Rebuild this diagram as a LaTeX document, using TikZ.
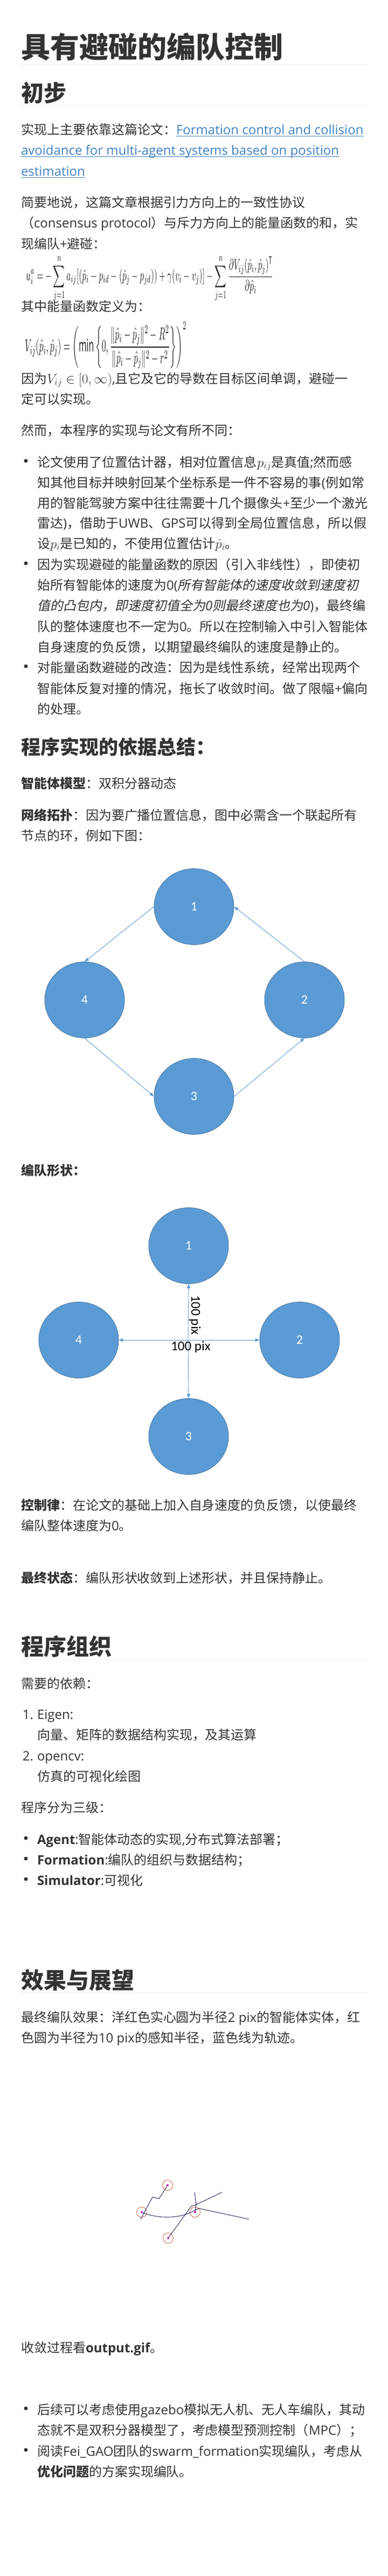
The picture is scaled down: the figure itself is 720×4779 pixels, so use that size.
\documentclass[tikz,border=0pt]{standalone}
\usepackage{fontspec}
\usepackage{amsmath}
\usepackage{graphicx}
\usetikzlibrary{shapes.geometric,arrows.meta}
\setmainfont{Open Sans}
\newfontfamily\cjkfam{Noto Sans CJK SC}[AutoFakeSlant=0.2]
\newfontfamily\carlito{Carlito}
\XeTeXinterchartokenstate=1
\newXeTeXintercharclass\cjkclass
\newcount\cjkcnt
\def\setcjkrange#1#2{\cjkcnt=#1\relax\loop\XeTeXcharclass\cjkcnt=\cjkclass\relax\ifnum\cjkcnt<#2\relax\advance\cjkcnt by 1\relax\repeat}
\setcjkrange{"3000}{"303F}
\setcjkrange{"4E00}{"9FFF}
\setcjkrange{"FF00}{"FFEF}
\XeTeXinterchartoks 0 \cjkclass = {\cjkfam}
\XeTeXinterchartoks 4095 \cjkclass = {\cjkfam}
\XeTeXinterchartoks \cjkclass 0 = {\rmfamily}
\XeTeXinterchartoks \cjkclass 4095 = {\rmfamily}
\definecolor{tc}{HTML}{333333}
\definecolor{linkc}{HTML}{4183C4}
\definecolor{rulec}{HTML}{EEEEEE}
\definecolor{ablue}{HTML}{5B9BD5}
\definecolor{adark}{HTML}{41719C}
\definecolor{sensec}{HTML}{C8684F}
\definecolor{dotc}{HTML}{D020D0}
\definecolor{trajc}{HTML}{1E1E5A}
\tikzset{
  txt/.style={anchor=base west, inner sep=0pt, outer sep=0pt, text=tc, font=\fontsize{24}{30}\selectfont},
  lnk/.style={txt, text=linkc},
  uline/.style={draw=linkc, line width=1pt},
  numr/.style={txt, anchor=base east},
  hone/.style={txt, font=\fontsize{54}{60}\selectfont\bfseries},
  htwo/.style={txt, font=\fontsize{42}{48}\selectfont\bfseries},
  hthree/.style={txt, font=\fontsize{36}{40}\selectfont\bfseries},
  hrule/.style={draw=rulec, line width=1pt},
  bul/.style={circle, fill=tc, inner sep=0pt, minimum size=7pt},
  formula/.style={anchor=north west, inner sep=0pt, text=black!88},
  agent/.style={ellipse, minimum width=148pt, minimum height=141pt, inner sep=0pt, fill=ablue, draw=adark, line width=0.8pt, text=white, font=\carlito\fontsize{24}{28}\selectfont},
  arr/.style={draw=ablue, line width=0.9pt, -{Triangle[length=8pt,width=6pt]}},
  dimlbl/.style={inner sep=0pt, text=black, font=\carlito\fontsize{25}{28}\selectfont},
  sense/.style={circle, draw=sensec, line width=0.9pt, minimum size=19pt, inner sep=0pt},
  traj/.style={draw=trajc, line width=0.9pt, line join=round},
}
\begin{document}
\begin{tikzpicture}[x=1pt,y=-1pt]
\useasboundingbox (0,0) rectangle (720,4779);
\fill[white] (0,0) rectangle (720,4779);

% Title
\node[hone] (title) at (39,107.5) {具有避碰的编队控制};
\draw[hrule] (39,119) -- (682,119);
\node[htwo] (h2a) at (39,188) {初步};
\draw[hrule] (39,195) -- (682,195);

\node[txt] (t1) at (39,249) {实现上主要依靠这篇论文：};
\node[lnk] (lk1) at (t1.base east) {Formation control and collision\ };
\node[lnk] (lk2) at (39,287) {avoidance for multi-agent systems based on position\ };
\node[lnk] (lk3) at (39,326) {estimation};
\draw[uline] ([yshift=-3.5pt]lk1.base west) -- ([yshift=-3.5pt]lk1.base east);
\draw[uline] ([yshift=-3.5pt]lk2.base west) -- ([yshift=-3.5pt]lk2.base east);
\draw[uline] ([yshift=-3.5pt]lk3.base west) -- ([yshift=-3.5pt]lk3.base east);
\node[txt] (t4) at (39,384) {简要地说，这篇文章根据引力方向上的一致性协议};
\node[txt] (t5) at (39,422) {（consensus protocol）与斥力方向上的能量函数的和，实};
\node[txt] (t6) at (39,461) {现编队+避碰：};
\node[formula] (f1) at (48,473) {\resizebox{459pt}{47pt}{$\displaystyle u_i^a=-\sum_{j=1}^{n}a_{ij}[(\hat{p}_i-p_{id}-(\hat{p}_j-p_{jd}))+\gamma(v_i-v_j)]-\sum_{j=1}^{n}\frac{\partial V_{ij}(\hat{p}_i,\hat{p}_j)^{\mathrm{T}}}{\partial\hat{p}_i}$}};
\node[txt] (t7) at (39,577) {其中能量函数定义为：};
\node[formula] (f2) at (46,597) {\resizebox{300pt}{55pt}{$\displaystyle V_{ij}(\hat{p}_i,\hat{p}_j)=\left(\min\left\{0,\frac{\|\hat{p}_i-\hat{p}_j\|^2-R^2}{\|\hat{p}_i-\hat{p}_j\|^2-r^2}\right\}\right)^2$}};
\node[txt] (t8) at (39,711) {因为$V_{ij}\in[0,\infty)$,且它及它的导数在目标区间单调，避碰一};
\node[txt] (t9) at (39,749) {定可以实现。};
\node[txt] (t10) at (39,807) {然而，本程序的实现与论文有所不同：};

% bullet 1
\node[bul] (d1) at (48,855) {};
\node[txt] (b11) at (69,866) {论文使用了位置估计器，相对位置信息$p_{ij}$是真值;然而感};
\node[txt] (b12) at (69,904) {知其他目标并映射回某个坐标系是一件不容易的事(例如常};
\node[txt] (b13) at (69,942) {用的智能驾驶方案中往往需要十几个摄像头+至少一个激光};
\node[txt] (b14) at (69,979) {雷达)，借助于UWB、GPS可以得到全局位置信息，所以假};
\node[txt] (b15) at (69,1017) {设$p_i$是已知的，不使用位置估计$\hat{p}_i$。};
% bullet 2
\node[bul] (d2) at (48,1045) {};
\node[txt] (b21) at (69,1056) {因为实现避碰的能量函数的原因（引入非线性），即使初};
\node[txt] (b22) at (69,1094) {始所有智能体的速度为0({\itshape 所有智能体的速度收敛到速度初}};
\node[txt] (b23) at (69,1132) {{\itshape 值的凸包内，即速度初值全为0则最终速度也为0})，最终编};
\node[txt] (b24) at (69,1171) {队的整体速度也不一定为0。所以在控制输入中引入智能体};
\node[txt] (b25) at (69,1209) {自身速度的负反馈，以期望最终编队的速度是静止的。};
% bullet 3
\node[bul] (d3) at (48,1236) {};
\node[txt] (b31) at (69,1247) {对能量函数避碰的改造：因为是线性系统，经常出现两个};
\node[txt] (b32) at (69,1286) {智能体反复对撞的情况，拖长了收敛时间。做了限幅+偏向};
\node[txt] (b33) at (69,1324) {的处理。};

\node[hthree] (h3a) at (39,1399) {程序实现的依据总结：};
\node[txt] (t11) at (39,1462) {{\bfseries 智能体模型}：双积分器动态};
\node[txt] (t12) at (39,1521) {{\bfseries 网络拓扑}：因为要广播位置信息，图中必需含一个联起所有};
\node[txt] (t13) at (39,1559) {节点的环，例如下图：};

% diagram 1: ring topology
\node[agent] (ga1) at (360,1682) {1};
\node[agent] (ga4) at (157,1855) {4};
\node[agent] (ga2) at (565,1855) {2};
\node[agent] (ga3) at (360,2034) {3};
\draw[arr] (ga1.west) -- (ga4.north);
\draw[arr] (ga2.north) -- (ga1.east);
\draw[arr] (ga4.south) -- (ga3.west);
\draw[arr] (ga3.east) -- (ga2.south);

\node[txt] (t14) at (39,2180) {{\bfseries 编队形状：}};

% diagram 2: formation shape
\node[agent] (fa1) at (350,2311) {1};
\node[agent] (fa4) at (146,2486) {4};
\node[agent] (fa2) at (556,2486) {2};
\node[agent] (fa3) at (350,2665) {3};
\coordinate (fc) at (349,2486);
\draw[arr] (fc) -- (fa1.south);
\draw[arr] (fc) -- (fa4.east);
\draw[arr] (fc) -- (fa2.west);
\draw[arr] (fc) -- (fa3.north);
\node[dimlbl, anchor=base] (lh) at (354,2505) {100 pix};
\node[dimlbl, anchor=base west, rotate=-90] (lv) at (355,2403) {100 pix};

\node[txt] (t15) at (39,2801) {{\bfseries 控制律}：在论文的基础上加入自身速度的负反馈，以使最终};
\node[txt] (t16) at (39,2839) {编队整体速度为0。};
\node[txt] (t17) at (39,2936) {{\bfseries 最终状态}：编队形状收敛到上述形状，并且保持静止。};

\node[htwo] (h2b) at (39,3070) {程序组织};
\draw[hrule] (39,3078) -- (682,3078);
\node[txt] (t18) at (39,3132) {需要的依赖：};
\node[numr] (n1) at (62,3189) {1.};
\node[txt] (o11) at (69,3189) {Eigen:};
\node[txt] (o12) at (69,3227) {向量、矩阵的数据结构实现，及其运算};
\node[numr] (n2) at (62,3266) {2.};
\node[txt] (o21) at (69,3266) {opencv:};
\node[txt] (o22) at (69,3304) {仿真的可视化绘图};
\node[txt] (t19) at (39,3362) {程序分为三级：};
\node[bul] (d4) at (48,3410) {};
\node[txt] (c1) at (69,3421) {{\bfseries Agent}:智能体动态的实现,分布式算法部署；};
\node[bul] (d5) at (48,3448) {};
\node[txt] (c2) at (69,3459) {{\bfseries Formation}:编队的组织与数据结构；};
\node[bul] (d6) at (48,3486) {};
\node[txt] (c3) at (69,3497) {{\bfseries Simulator}:可视化};

\node[htwo] (h2c) at (39,3689) {效果与展望};
\draw[hrule] (39,3697) -- (682,3697);
\node[txt] (t20) at (39,3751) {最终编队效果：洋红色实心圆为半径2 pix的智能体实体，红};
\node[txt] (t21) at (39,3789) {色圆为半径为10 pix的感知半径，蓝色线为轨迹。};

% trajectory result
\node[sense] (ta) at (311,4054) {};
\node[sense] (tb) at (263,4104) {};
\node[sense] (tcc) at (362,4104) {};
\node[sense] (td) at (312,4152) {};
\coordinate (sa) at (261,4117);
\coordinate (sb) at (462,4117);
\coordinate (sc) at (412,4067);
\coordinate (sd) at (361,4067);
\coordinate (kb) at (369,4097);
\coordinate (kx) at (364,4090);
\draw[traj] (ta.center) -- (295,4079) -- (283,4076) -- (sa);
\draw[traj] (tb.center) .. controls (290,4116) and (335,4118) .. (364,4099) -- (kb) -- (sb);
\draw[traj] (td.center) -- (355,4093) -- (kx) -- (sd);
\draw[traj] (sc) -- (kx) -- (tcc.center);
\fill[dotc] (ta.center) circle (2pt);
\fill[dotc] (tb.center) circle (2pt);
\fill[dotc] (tcc.center) circle (2pt);
\fill[dotc] (td.center) circle (2pt);

\node[txt] (t22) at (39,4364) {收敛过程看{\bfseries output.gif}。};

\node[bul] (d7) at (48,4468) {};
\node[txt] (e11) at (69,4479) {后续可以考虑使用gazebo模拟无人机、无人车编队，其动};
\node[txt] (e12) at (69,4517) {态就不是双积分器模型了，考虑模型预测控制（MPC）；};
\node[bul] (d8) at (48,4545) {};
\node[txt] (e21) at (69,4556) {阅读Fei\_GAO团队的swarm\_formation实现编队，考虑从};
\node[txt] (e22) at (69,4594) {{\bfseries 优化问题}的方案实现编队。};
\end{tikzpicture}
\end{document}
